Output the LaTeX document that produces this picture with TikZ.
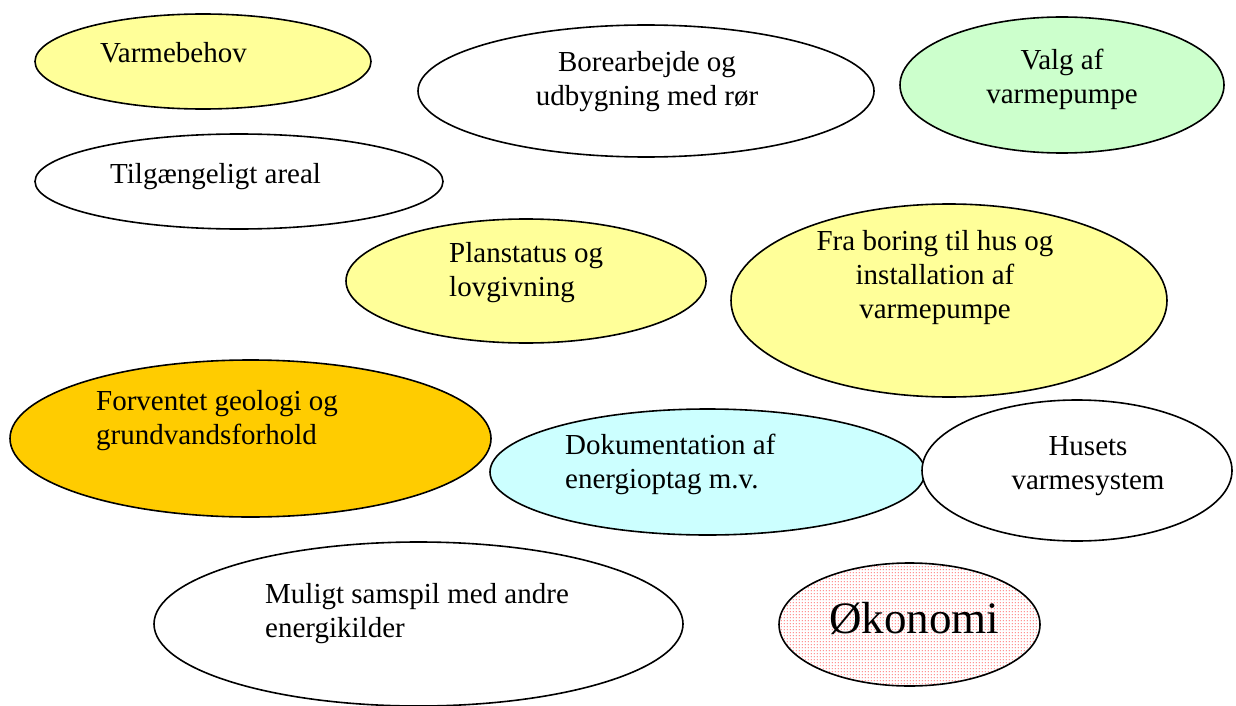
\documentclass[tikz,border=0pt]{standalone}
\usepackage{fontspec}
\setmainfont{Liberation Serif}
\usetikzlibrary{shapes.geometric,patterns}
\definecolor{lyellow}{HTML}{FFFF99}
\definecolor{lgreen}{HTML}{CCFFCC}
\definecolor{lorange}{HTML}{FFCC00}
\definecolor{lcyan}{HTML}{CCFFFF}
\pgfdeclarepatternformonly{rdots}{\pgfpoint{0pt}{0pt}}{\pgfpoint{3pt}{3pt}}{\pgfpoint{3pt}{3pt}}{%
  \pgfpathrectangle{\pgfpoint{1pt}{1pt}}{\pgfpoint{1pt}{1pt}}\pgfusepath{fill}}
\tikzset{
  ell/.style={ellipse, draw=black, line width=1.6pt, inner sep=0pt, fill=white},
  txt/.style={inner sep=0pt, font=\fontsize{29}{34}\selectfont},
  txtl/.style={txt, align=left, anchor=base west},
  txtc/.style={txt, align=center, anchor=base},
}
\begin{document}
\begin{tikzpicture}[x=1pt,y=-1pt]
\useasboundingbox (0,0) rectangle (1236,706);
% ellipses
\node[ell, fill=lyellow, minimum width=336pt, minimum height=95pt] (e1) at (203,61.5) {};
\node[ell, fill=lyellow, minimum width=360pt, minimum height=124pt] (e5) at (526,281) {};
\node[ell, minimum width=408pt, minimum height=95pt] (e2) at (239,181.5) {};
\node[ell, minimum width=456pt, minimum height=132pt] (e3) at (646,91) {};
\node[ell, fill=lgreen, minimum width=324pt, minimum height=136pt] (e4) at (1062,85) {};
\node[ell, fill=lyellow, minimum width=436pt, minimum height=193pt] (e6) at (949,300.5) {};
\node[ell, fill=lorange, minimum width=481pt, minimum height=157pt] (e7) at (250.5,438.5) {};
\node[ell, fill=lcyan, minimum width=435pt, minimum height=126pt] (e8) at (707.5,472) {};
\node[ell, minimum width=310pt, minimum height=141pt] (e9) at (1077,470.5) {};
\node[ell, minimum width=529pt, minimum height=164pt] (e10) at (418.5,624) {};
\node[ell, pattern=rdots, pattern color=red, minimum width=261pt, minimum height=123pt] (e11) at (909.5,624.5) {};
% texts (base anchor = last line baseline)
\node[txtl] (t1) at (100,63) {Varmebehov};
\node[txtl] (t2) at (110,183) {Tilgængeligt areal};
\node[txtc] (t3) at (647,106) {Borearbejde og\\udbygning med rør};
\node[txtc] (t4) at (1062,104) {Valg af\\varmepumpe};
\node[txtl] (t5) at (449,296) {Planstatus og\\lovgivning};
\node[txtc] (t6) at (935,318) {Fra boring til hus og\\installation af\\varmepumpe};
\node[txtl] (t7) at (96,444) {Forventet geologi og\\grundvandsforhold};
\node[txtl] (t8) at (565,488) {Dokumentation af\\energioptag m.v.};
\node[txtc] (t9) at (1088,489) {Husets\\varmesystem};
\node[txtl] (t10) at (265,637) {Muligt samspil med andre\\energikilder};
\node[inner sep=0pt, anchor=base, font=\fontsize{45}{50}\selectfont] (t11) at (914,633) {Økonomi};
\end{tikzpicture}
\end{document}
